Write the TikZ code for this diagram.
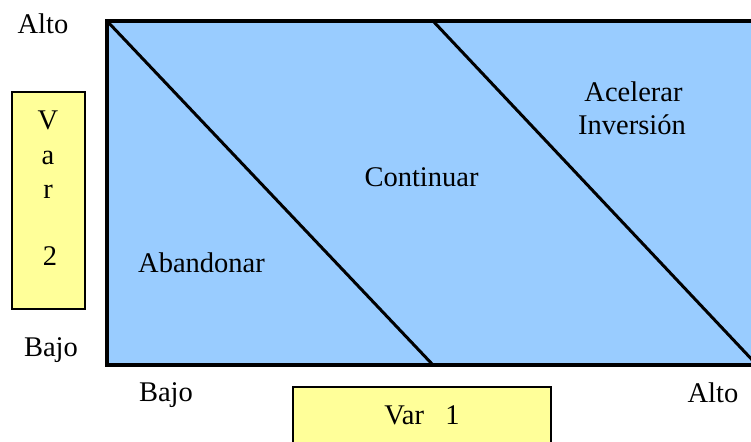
\documentclass[tikz,border=0pt]{standalone}
\usepackage{fontspec}
\setmainfont{Liberation Serif}
\definecolor{fieldblue}{HTML}{99CCFF}
\definecolor{varyellow}{HTML}{FFFF99}
\begin{document}
\begin{tikzpicture}[x=0.5pt,y=-0.5pt,
  lbl/.style={anchor=base,inner sep=0pt,font=\fontsize{14.25}{17}\selectfont},
  varbox/.style={draw=black,fill=varyellow,line width=1.3pt},
  divider/.style={draw=black,line width=1.5pt}]
\useasboundingbox (0,0) rectangle (751,442);
% field
\coordinate (tl) at (107,21);
\coordinate (tr) at (760,21);
\coordinate (bl) at (107,365);
\coordinate (br) at (760,365);
\coordinate (tm) at (433,21);
\coordinate (bm) at (433,365);
\coordinate (brx) at (757,365);
\fill[fieldblue] (tl) rectangle (br);
\draw[line width=1.6pt] (tr) -- (tl) -- (bl) -- (br);
\draw[divider] (tl) -- (bm);
\draw[divider] (tm) -- (brx);
% region labels
\node[lbl] (aband) at (201.5,273) {Abandonar};
\node[lbl] (cont) at (421.5,187) {Continuar};
\node[lbl] (acel) at (633.5,102) {Acelerar};
\node[lbl] (inv) at (632,135) {Inversión};
% axis labels
\node[lbl] (altoy) at (43,34) {Alto};
\node[lbl] (bajoy) at (51,357) {Bajo};
\node[lbl] (bajox) at (166,402) {Bajo};
\node[lbl] (altox) at (713,403) {Alto};
% Var 2 box
\path[varbox] (12,92) rectangle (85,309);
\node[lbl] (v2a) at (48,130) {V};
\node[lbl] (v2b) at (48,165) {a};
\node[lbl] (v2c) at (48,199) {r};
\node[lbl] (v2d) at (50,266) {2};
% Var 1 box
\path[varbox] (293,387) rectangle (551,460);
\node[lbl] (v1) at (422,425) {Var\ \ \ 1};
\end{tikzpicture}
\end{document}
